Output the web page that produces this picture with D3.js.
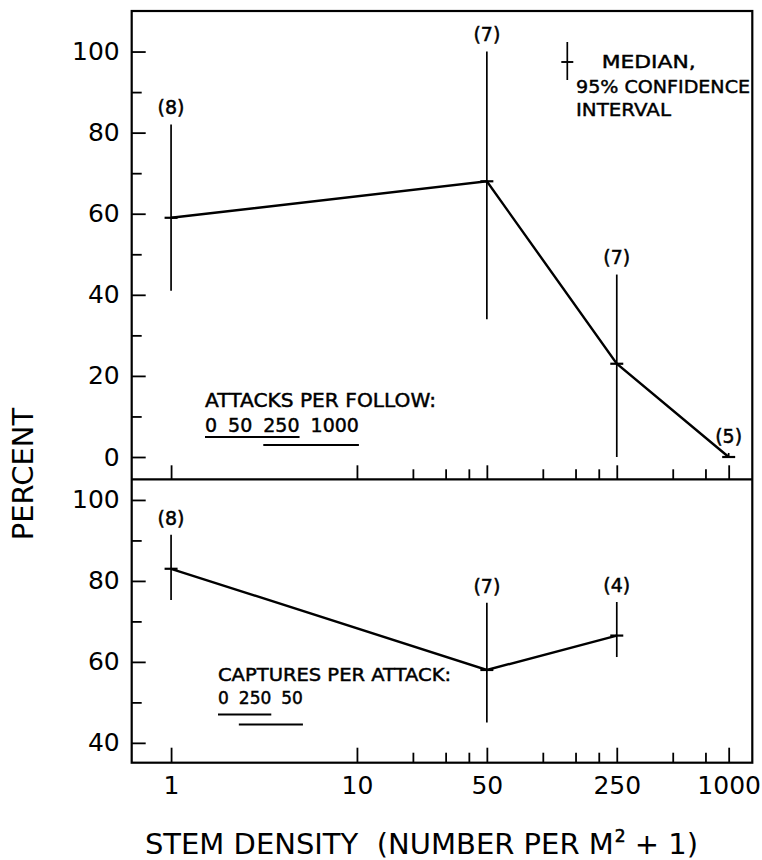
<!DOCTYPE html>
<html>
<head>
<meta charset="utf-8">
<script src="https://cdn.jsdelivr.net/npm/d3@7"></script>
<style>
  body { margin: 0; background: #fff; }
  text { font-family: "DejaVu Sans", "Liberation Sans", sans-serif; fill: #000; }
</style>
</head>
<body>
<svg id="chart" width="762" height="860"></svg>
<script>
// ---------- data ----------
const attackDensity = [1, 50, 250, 1000];
const attackMedian  = [59, 68, 23, 0];
const attackLow     = [41, 34, 0, 0];
const attackHigh    = [82, 100, 45, 1];
const attackN       = [8, 7, 7, 5];

const captureDensity = [1, 50, 250];
const captureMedian  = [83, 58, 66.5];
const captureLow     = [75.3, 45, 61.2];
const captureHigh    = [91.4, 74.6, 74.8];
const captureN       = [8, 7, 4];

const xMajorTicks = [1, 10, 50, 250, 1000];
const xMinorTicks = [20, 30, 40, 100, 150, 200, 500, 750];
const topYMajor = [0, 20, 40, 60, 80, 100];
const topYMinor = [10, 30, 50, 70, 90];
const botYMajor = [40, 60, 80, 100];
const botYMinor = [50, 70, 90];

const attackGroups = ["0", "50", "250", "1000"];
const attackUnderlines = [[0, 2], [2, 3]];
const captureGroups = ["0", "250", "50"];
const captureUnderlines = [[0, 1], [1, 2]];

const legendLines = ["MEDIAN,", "95% CONFIDENCE", "INTERVAL"];
const attackTitle = "ATTACKS PER FOLLOW:";
const captureTitle = "CAPTURES PER ATTACK:";
const xTitleParts = ["STEM DENSITY  (NUMBER PER M", "2", " + 1)"];
const yTitle = "PERCENT";

// ---------- layout ----------
const L = 131.7, R = 752.3, T = 11, MID = 479.3, B = 762.7;
const svg = d3.select("#chart");

const x = d3.scaleLog().domain([0.614, 1340]).range([L, R]);
const yTop = d3.scaleLinear().domain([-5.5, 110]).range([MID, T]);
const yBot = d3.scaleLinear().domain([35.1, 105.1]).range([B, MID]);

function styleAxis(g, fs) {
  g.select(".domain").remove();
  g.selectAll("line").attr("stroke", "#000").attr("stroke-width", 1.8);
  g.selectAll("text").style("font-family", '"DejaVu Sans", sans-serif')
    .style("font-size", fs + "px").attr("fill", "#000");
}

// y axes
[[yTop, topYMajor, topYMinor], [yBot, botYMajor, botYMinor]].forEach(([ys, maj, min]) => {
  svg.append("g").attr("transform", `translate(${L},0)`)
    .call(d3.axisLeft(ys).tickValues(maj).tickSize(-14).tickPadding(12).tickFormat(d3.format("d")))
    .call(g => styleAxis(g, 25));
  svg.append("g").attr("transform", `translate(${L},0)`)
    .call(d3.axisLeft(ys).tickValues(min).tickSize(-10).tickFormat(""))
    .call(g => styleAxis(g, 25));
});

// x axes (top panel: ticks only; bottom: with labels)
svg.append("g").attr("transform", `translate(0,${MID})`)
  .call(d3.axisBottom(x).tickValues(xMajorTicks).tickSize(-14).tickFormat(""))
  .call(g => styleAxis(g, 25));
svg.append("g").attr("transform", `translate(0,${MID})`)
  .call(d3.axisBottom(x).tickValues(xMinorTicks).tickSize(-10).tickFormat(""))
  .call(g => styleAxis(g, 25));
svg.append("g").attr("transform", `translate(0,${B})`)
  .call(d3.axisBottom(x).tickValues(xMajorTicks).tickSize(-15).tickPadding(14).tickFormat(d3.format("d")))
  .call(g => styleAxis(g, 25));
svg.append("g").attr("transform", `translate(0,${B})`)
  .call(d3.axisBottom(x).tickValues(xMinorTicks).tickSize(-10).tickFormat(""))
  .call(g => styleAxis(g, 25));

// frame
svg.append("rect").attr("x", L).attr("y", T).attr("width", R - L).attr("height", B - T)
  .attr("fill", "none").attr("stroke", "#000").attr("stroke-width", 2.2);
svg.append("line").attr("x1", L).attr("x2", R).attr("y1", MID).attr("y2", MID)
  .attr("stroke", "#000").attr("stroke-width", 2.2);

// series drawing
function drawSeries(dens, med, lo, hi, n, ys) {
  const pts = dens.map((d, i) => ({ d, m: med[i], lo: lo[i], hi: hi[i], n: n[i] }));
  const g = svg.append("g");
  g.append("path").datum(pts)
    .attr("d", d3.line().x(p => x(p.d)).y(p => ys(p.m)))
    .attr("fill", "none").attr("stroke", "#000").attr("stroke-width", 2.4);
  g.selectAll(".ci").data(pts).join("line")
    .attr("x1", p => x(p.d)).attr("x2", p => x(p.d))
    .attr("y1", p => ys(p.lo)).attr("y2", p => ys(p.hi))
    .attr("stroke", "#000").attr("stroke-width", 1.7);
  g.selectAll(".med").data(pts).join("line")
    .attr("x1", p => x(p.d) - 6.5).attr("x2", p => x(p.d) + 6.5)
    .attr("y1", p => ys(p.m)).attr("y2", p => ys(p.m))
    .attr("stroke", "#000").attr("stroke-width", 2.2);
  g.selectAll(".n").data(pts).join("text")
    .attr("x", p => x(p.d)).attr("y", p => ys(p.hi) - 17)
    .attr("dy", "0.36em").attr("text-anchor", "middle")
    .style("font-size", "19px").attr("stroke", "#000").attr("stroke-width", 0.5)
    .text(p => `(${p.n})`);
}
drawSeries(attackDensity, attackMedian, attackLow, attackHigh, attackN, yTop);
drawSeries(captureDensity, captureMedian, captureLow, captureHigh, captureN, yBot);

// legend (median / CI symbol)
const lgX = 567.3;
svg.append("line").attr("x1", lgX).attr("x2", lgX).attr("y1", 42).attr("y2", 80)
  .attr("stroke", "#000").attr("stroke-width", 1.7);
svg.append("line").attr("x1", lgX - 6).attr("x2", lgX + 6).attr("y1", 62).attr("y2", 62)
  .attr("stroke", "#000").attr("stroke-width", 1.9);
const lgPos = [[601.7, 68.3], [576, 93], [576, 116]];
const lgLen = [94, 174, 95];
svg.selectAll(".lgt").data(legendLines).join("text")
  .attr("x", (d, i) => lgPos[i][0]).attr("y", (d, i) => lgPos[i][1])
  .attr("textLength", (d, i) => lgLen[i]).attr("lengthAdjust", "spacingAndGlyphs")
  .style("font-size", "18.5px").attr("stroke", "#000").attr("stroke-width", 0.45)
  .text(d => d);

// significance legends
function sigLegend(title, groups, unders, x0, yTitleBase, yGroupBase, yUnder, fs, titleLen, gap) {
  svg.append("text").attr("x", x0).attr("y", yTitleBase)
    .style("font-size", fs + "px").attr("stroke", "#000").attr("stroke-width", 0.45)
    .attr("textLength", titleLen).attr("lengthAdjust", "spacingAndGlyphs")
    .text(title);
  let cx = x0;
  const boxes = [];
  groups.forEach(gs => {
    const t = svg.append("text").attr("x", cx).attr("y", yGroupBase)
      .style("font-size", fs + "px").attr("stroke", "#000").attr("stroke-width", 0.45)
      .text(gs);
    const w = t.node().getComputedTextLength();
    boxes.push([cx, cx + w]);
    cx += w + gap;
  });
  unders.forEach((u, i) => {
    svg.append("line").attr("x1", boxes[u[0]][0]).attr("x2", boxes[u[1]][1])
      .attr("y1", yUnder[i]).attr("y2", yUnder[i])
      .attr("stroke", "#000").attr("stroke-width", 2);
  });
}
sigLegend(attackTitle, attackGroups, attackUnderlines, 205, 406.7, 431.7, [437, 445], 19, 231, 11);
sigLegend(captureTitle, captureGroups, captureUnderlines, 218, 680.5, 703.5, [714.5, 724.5], 17, 233, 10);

// x axis title as three pieces (main, superscript, tail), centred together
const xtSizes = [29, 17, 29];
const xtDy = [0, -12, 0];
const xtNodes = xTitleParts.map((s, i) => svg.append("text")
  .attr("y", 854 + xtDy[i]).style("font-size", xtSizes[i] + "px").style("white-space", "pre")
  .attr("stroke", i === 1 ? "#000" : "none").attr("stroke-width", 0.6)
  .text(s));
const xtW = xtNodes.map(t => t.node().getComputedTextLength());
let xtX = 421 - d3.sum(xtW) / 2;
xtNodes.forEach((t, i) => { t.attr("x", xtX); xtX += xtW[i] + (i === 1 ? 0 : 1); });

svg.append("text").attr("transform", "translate(33,474) rotate(-90)")
  .attr("text-anchor", "middle").style("font-size", "29px")
  .text(yTitle);
</script>
</body>
</html>
